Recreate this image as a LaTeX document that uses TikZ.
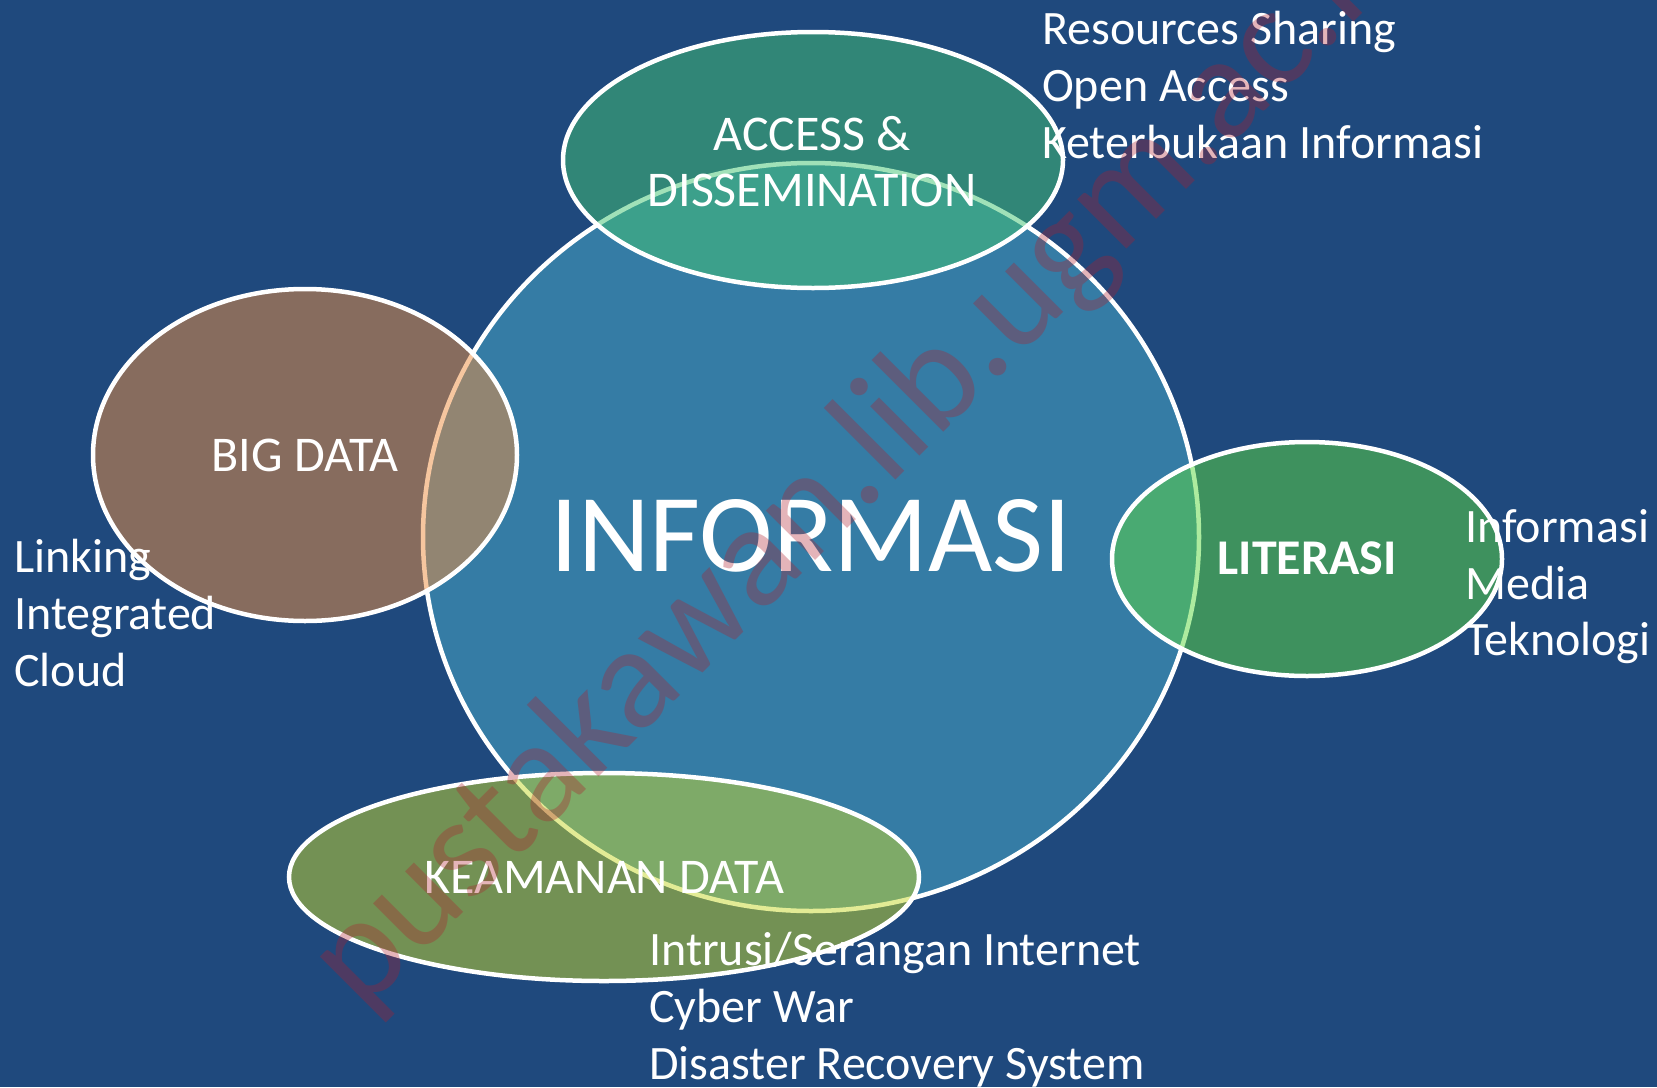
\documentclass[tikz,border=0pt]{standalone}
\usepackage{fontspec}
\setmainfont{Carlito}

\definecolor{bgblue}{RGB}{31,73,125}
\definecolor{corefill}{RGB}{53,124,165}
\definecolor{accessfill}{RGB}{67,196,115}
\definecolor{bigfill}{RGB}{239,143,65}
\definecolor{litfill}{RGB}{93,217,65}
\definecolor{securefill}{RGB}{199,217,45}
\definecolor{wmred}{RGB}{175,30,45}

\tikzset{
  petal/.style={draw=white, line width=4.5pt, fill opacity=0.5},
  core/.style={draw=white, line width=4.5pt, fill=corefill},
  label/.style={text=white, inner sep=0pt, anchor=base, font=\fontsize{50}{60}\selectfont},
  item/.style={text=white, inner sep=0pt, anchor=base west, font=\fontsize{48}{57}\selectfont},
}

\begin{document}
\begin{tikzpicture}[x=1pt, y=-1pt]
  % background
  \fill[bgblue] (0,0) rectangle (1657,1087);
  \useasboundingbox (0,0) rectangle (1657,1087);

  % central circle
  \draw[core] (811,537) ellipse [x radius=388, y radius=374];

  % satellite ellipses
  \draw[petal, fill=accessfill] (813,160) ellipse [x radius=250, y radius=128];
  \draw[petal, fill=bigfill] (305,455) ellipse [x radius=212, y radius=166];
  \draw[petal, fill=litfill] (1307,559) ellipse [x radius=195, y radius=117];
  \draw[petal, fill=securefill] (604,877) ellipse [x radius=315, y radius=104];

  % titles
  \node[label, font=\fontsize{111}{120}\selectfont] (info) at (811,571) {INFORMASI};
  \node[label] (acc1) at (812,150) {ACCESS \&};
  \node[label] (acc2) at (812,206) {DISSEMINATION};
  \node[label] (big) at (305,471) {BIG DATA};
  \node[label, font=\fontsize{50}{60}\selectfont\bfseries] (lit) at (1307,574) {LITERASI};
  \node[label] (sec) at (604,893) {KEAMANAN DATA};

  % access & dissemination items
  \node[item] (a1) at (1042,44) {Resources Sharing};
  \node[item] (a2) at (1042,101) {Open Access};
  \node[item] (a3) at (1042,158) {Keterbukaan Informasi};

  % big data items
  \node[item] (b1) at (14,572) {Linking};
  \node[item] (b2) at (14,629) {Integrated};
  \node[item] (b3) at (14,686) {Cloud};

  % literacy items
  \node[item] (l1) at (1465,542) {Informasi};
  \node[item] (l2) at (1465,599) {Media};
  \node[item] (l3) at (1465,655) {Teknologi};

  % data security items
  \node[item] (s1) at (649,965) {Intrusi/Serangan Internet};
  \node[item] (s2) at (649,1022) {Cyber War};
  \node[item] (s3) at (649,1079) {Disaster Recovery System};

  % watermark
  \node[text=wmred, opacity=0.33, inner sep=0pt, anchor=base west, rotate=45,
        font=\fontsize{146}{146}\selectfont] (wm) at (362,1014) {pustakawan.lib.ugm.ac.id};
\end{tikzpicture}
\end{document}
